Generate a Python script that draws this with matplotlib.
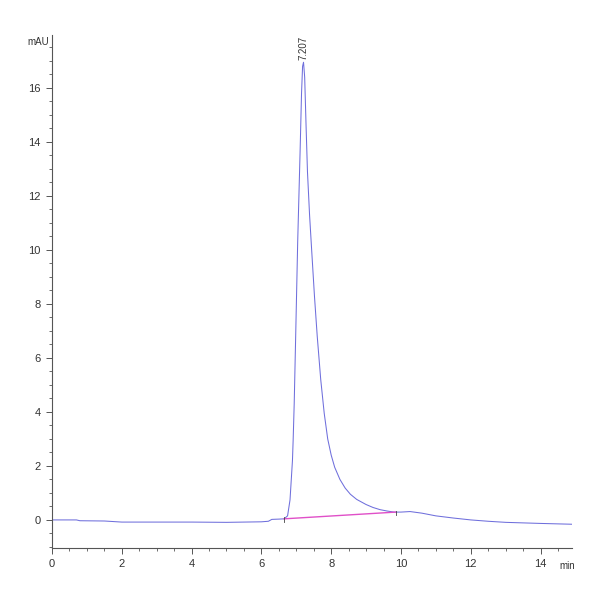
import matplotlib
matplotlib.use("Agg")
import matplotlib.pyplot as plt
from matplotlib.ticker import MultipleLocator

plt.rcParams['font.family'] = ['Liberation Sans Narrow', 'Liberation Sans', 'DejaVu Sans']

# chromatogram (time in min, signal in mAU)
time = [0.0, 0.7, 0.8, 1.5, 2.0, 3.0, 4.0, 5.0, 6.0, 6.2, 6.3, 6.5, 6.65,
        6.75, 6.82, 6.89, 6.91, 6.94, 6.98, 7.04, 7.11, 7.15, 7.18, 7.207,
        7.24, 7.28, 7.32, 7.38, 7.44, 7.52, 7.60, 7.70, 7.80, 7.90, 8.0,
        8.1, 8.25, 8.4, 8.55, 8.73, 9.0, 9.2, 9.4, 9.6, 9.8, 10.0, 10.26,
        10.6, 11.0, 11.5, 12.0, 12.5, 13.0, 14.0, 14.9]
signal = [0.0, 0.0, -0.03, -0.04, -0.08, -0.08, -0.08, -0.09, -0.07, -0.05,
          0.02, 0.03, 0.04, 0.15, 0.74, 2.2, 2.96, 4.3, 6.67, 10.3, 13.7,
          15.8, 16.8, 16.95, 16.4, 14.6, 12.9, 11.3, 10.0, 8.3, 6.8, 5.2,
          3.95, 3.0, 2.4, 1.95, 1.5, 1.18, 0.95, 0.76, 0.57, 0.46, 0.38,
          0.33, 0.29, 0.29, 0.31, 0.25, 0.15, 0.07, 0.0, -0.05, -0.09, -0.13,
          -0.16]

# integration baseline
base_t = [6.65, 9.85]
base_y = [0.04, 0.29]

peak_rt = 7.207
peak_h = 16.95

fig = plt.figure(figsize=(6, 6), dpi=100)
ax = fig.add_axes([52/600, 52/600, 520/600, 513/600])

ax.plot(time, signal, color='#6f6fdc', lw=0.75)
ax.plot(base_t, base_y, color='#e050c8', lw=1.0)
for bt, by in zip(base_t, base_y):
    ax.plot([bt, bt], [by - 0.12, by + 0.05], color='#444444', lw=0.6)

ax.text(peak_rt, peak_h + 0.1, f"{peak_rt:.3f}", rotation=90, ha='center',
        va='bottom', fontsize=7, color='#333333')

ax.set_xlim(0, 14.9)
ax.set_ylim(-1.04, 17.96)
ax.xaxis.set_major_locator(MultipleLocator(2))
ax.xaxis.set_minor_locator(MultipleLocator(0.5))
ax.yaxis.set_major_locator(MultipleLocator(2))
ax.yaxis.set_minor_locator(MultipleLocator(0.5))
ax.set_yticks([0, 2, 4, 6, 8, 10, 12, 14, 16])

for s in ['top', 'right']:
    ax.spines[s].set_visible(False)
for s in ['left', 'bottom']:
    ax.spines[s].set_color('#555555')
    ax.spines[s].set_linewidth(0.8)

ax.tick_params(which='major', length=4, width=0.7, color='#555555',
               labelsize=8, labelcolor='#333333', pad=4)
ax.tick_params(which='minor', length=2, width=0.6, color='#555555')

fig.text(38/600, 1 - 42/600, 'mAU', fontsize=7, color='#333333',
         ha='center', va='center')
fig.text(567/600, 1 - 566/600, 'min', fontsize=7, color='#333333',
         ha='center', va='center')

fig.savefig("out.png", dpi=100, facecolor='white')
